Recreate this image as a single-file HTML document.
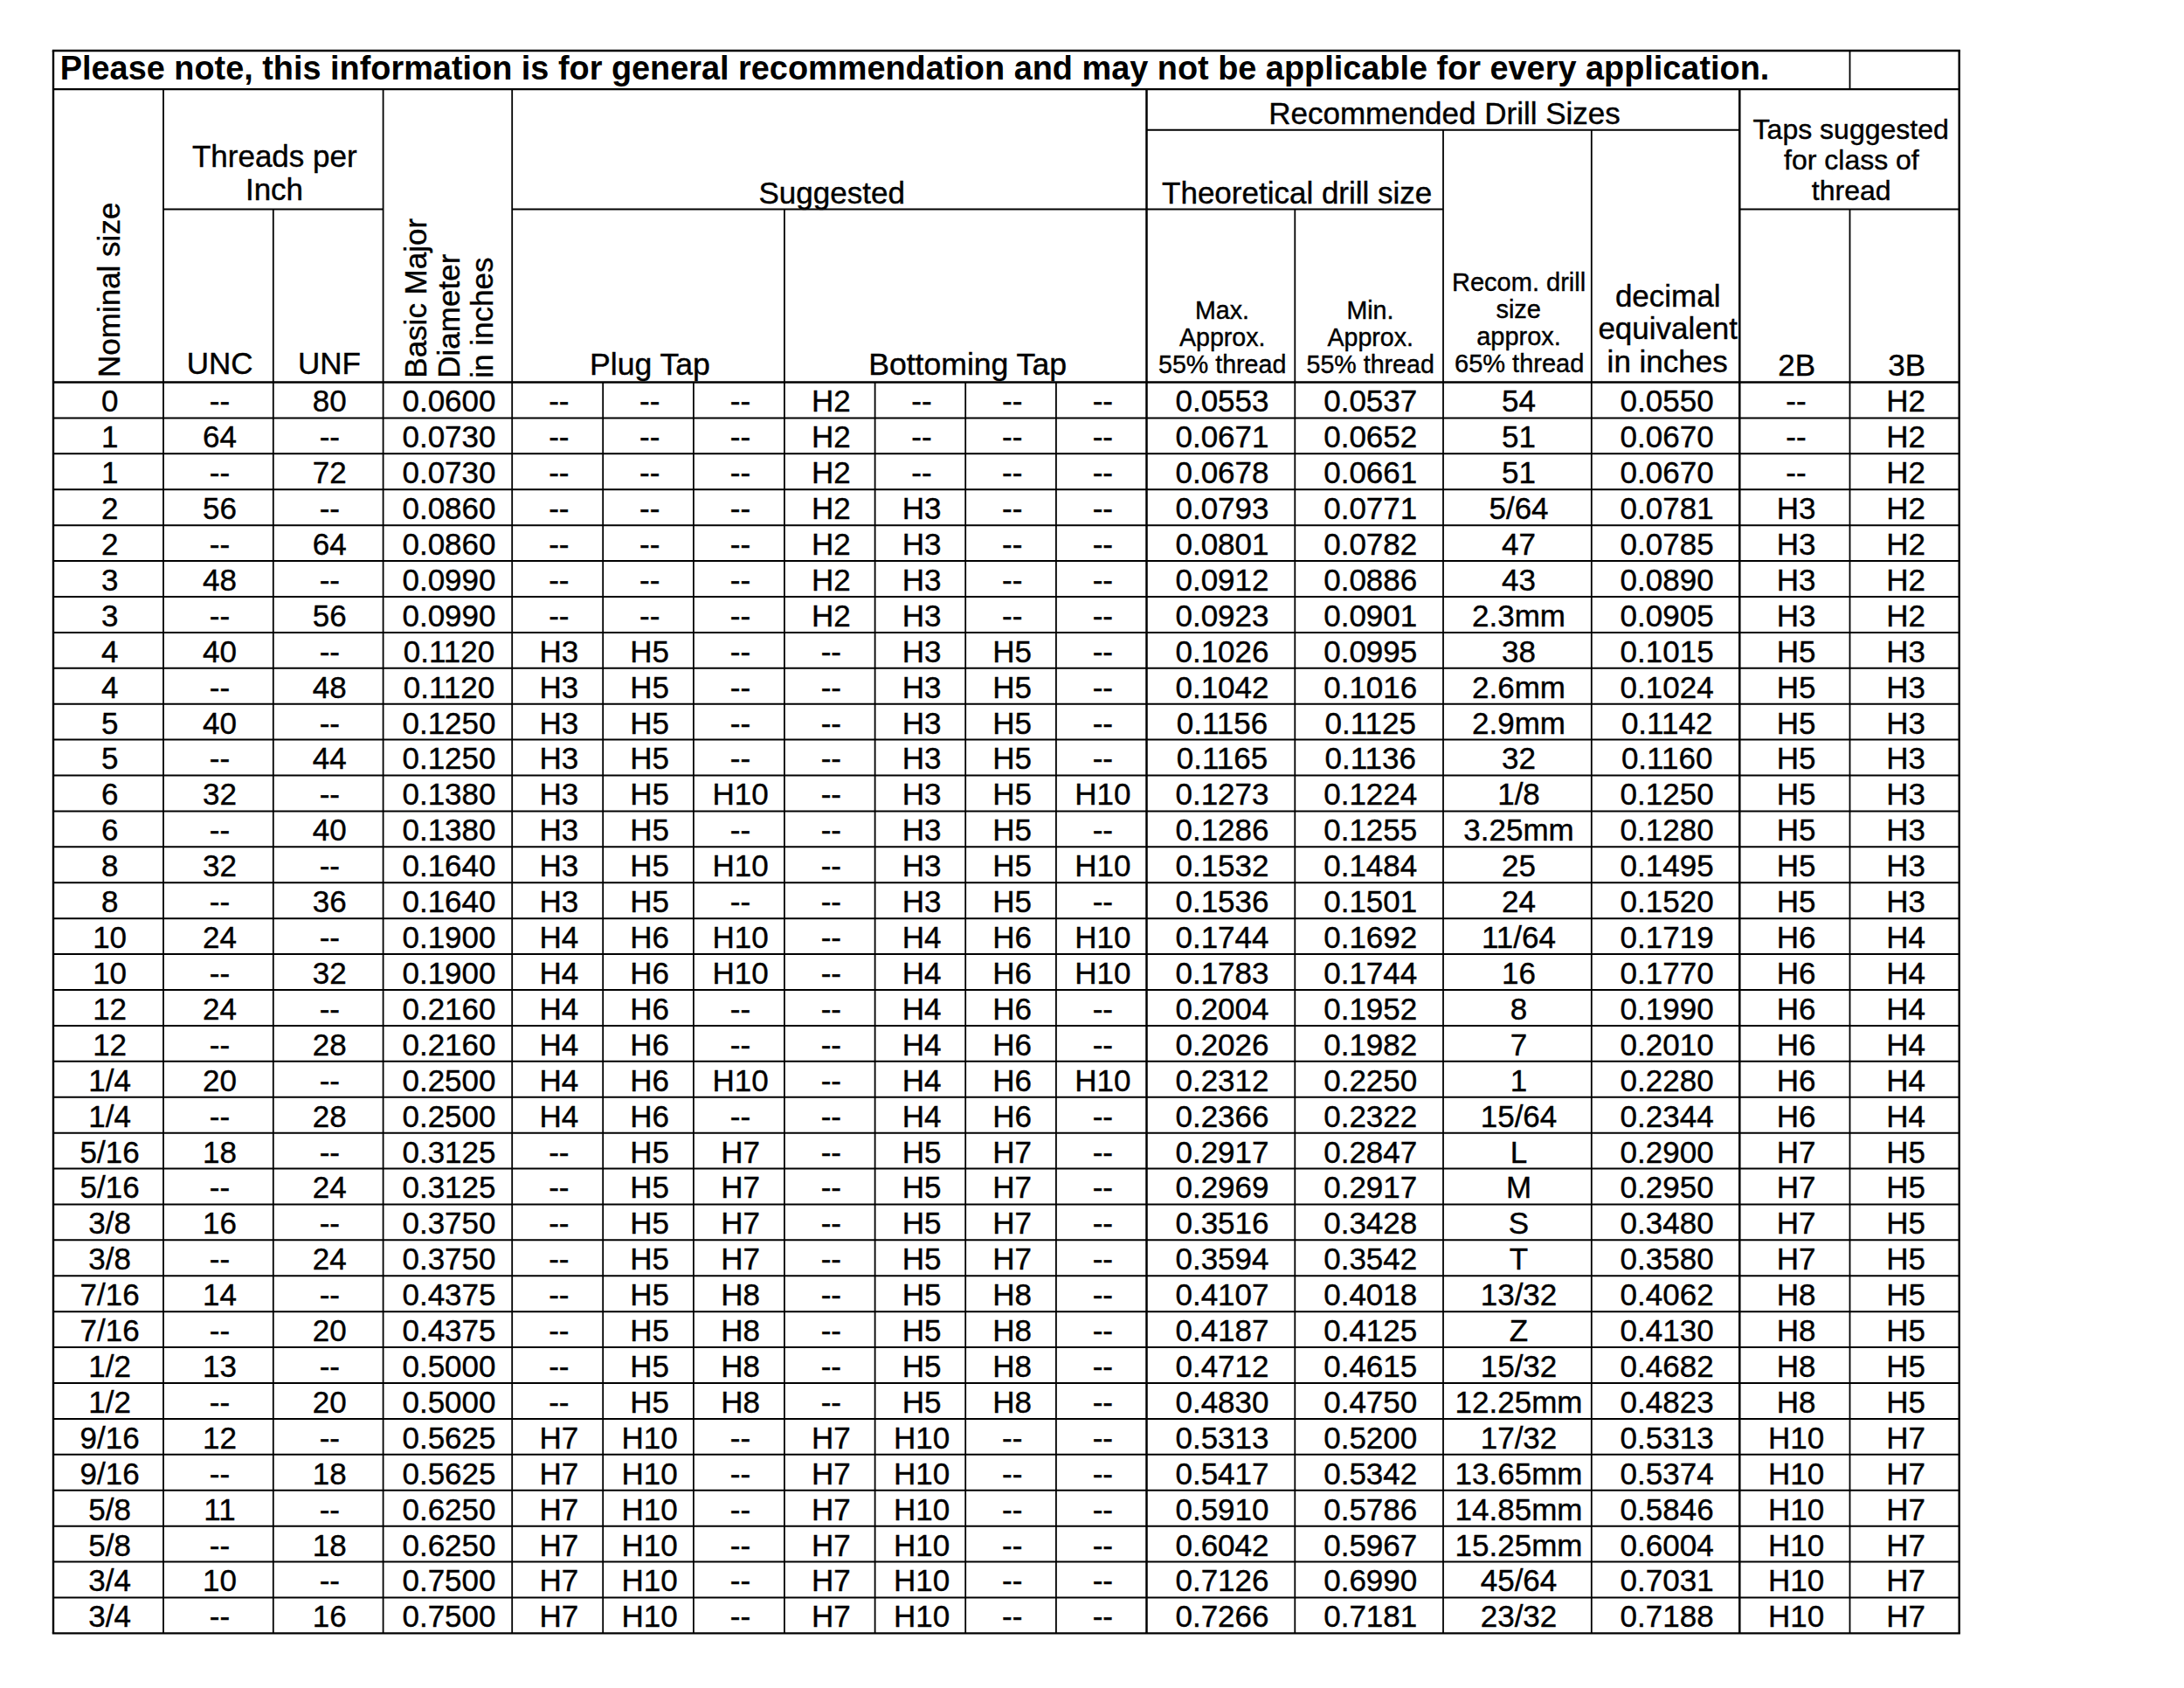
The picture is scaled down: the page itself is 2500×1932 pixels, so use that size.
<!DOCTYPE html>
<html><head><meta charset="utf-8"><style>
html,body{margin:0;padding:0;background:#fff;}
body{width:2500px;height:1932px;position:relative;overflow:hidden;font-family:"Liberation Sans", sans-serif;color:#000;}
.t{position:absolute;text-align:center;white-space:nowrap;-webkit-text-stroke:0.4px #000;}
.l{text-align:left;}
.d{width:600px;font-size:35px;line-height:35px;transform:scaleY(1.02);transform-origin:50% 29.63px;}
svg{position:absolute;left:0;top:0;}
</style></head><body>
<svg width="2500" height="1932" viewBox="0 0 2500 1932" stroke="#000" fill="none">
<line x1="59.80" y1="58.00" x2="2243.90" y2="58.00" stroke-width="2.4"/>
<line x1="59.80" y1="1869.40" x2="2243.90" y2="1869.40" stroke-width="2.4"/>
<line x1="61.00" y1="58.00" x2="61.00" y2="1869.40" stroke-width="2.4"/>
<line x1="2242.70" y1="58.00" x2="2242.70" y2="1869.40" stroke-width="2.4"/>
<line x1="61.00" y1="102.10" x2="2242.70" y2="102.10" stroke-width="2.1"/>
<line x1="1312.50" y1="148.70" x2="1991.30" y2="148.70" stroke-width="2.0"/>
<line x1="187.00" y1="239.50" x2="438.60" y2="239.50" stroke-width="2.0"/>
<line x1="586.20" y1="239.50" x2="1312.50" y2="239.50" stroke-width="2.0"/>
<line x1="1312.50" y1="239.50" x2="1652.00" y2="239.50" stroke-width="2.0"/>
<line x1="1991.30" y1="239.50" x2="2242.70" y2="239.50" stroke-width="2.0"/>
<line x1="61.00" y1="437.50" x2="2242.70" y2="437.50" stroke-width="2.3"/>
<line x1="61.00" y1="478.41" x2="2242.70" y2="478.41" stroke-width="2.0"/>
<line x1="61.00" y1="519.32" x2="2242.70" y2="519.32" stroke-width="2.0"/>
<line x1="61.00" y1="560.23" x2="2242.70" y2="560.23" stroke-width="2.0"/>
<line x1="61.00" y1="601.15" x2="2242.70" y2="601.15" stroke-width="2.0"/>
<line x1="61.00" y1="642.06" x2="2242.70" y2="642.06" stroke-width="2.0"/>
<line x1="61.00" y1="682.97" x2="2242.70" y2="682.97" stroke-width="2.0"/>
<line x1="61.00" y1="723.88" x2="2242.70" y2="723.88" stroke-width="2.0"/>
<line x1="61.00" y1="764.79" x2="2242.70" y2="764.79" stroke-width="2.0"/>
<line x1="61.00" y1="805.70" x2="2242.70" y2="805.70" stroke-width="2.0"/>
<line x1="61.00" y1="846.61" x2="2242.70" y2="846.61" stroke-width="2.0"/>
<line x1="61.00" y1="887.53" x2="2242.70" y2="887.53" stroke-width="2.0"/>
<line x1="61.00" y1="928.44" x2="2242.70" y2="928.44" stroke-width="2.0"/>
<line x1="61.00" y1="969.35" x2="2242.70" y2="969.35" stroke-width="2.0"/>
<line x1="61.00" y1="1010.26" x2="2242.70" y2="1010.26" stroke-width="2.0"/>
<line x1="61.00" y1="1051.17" x2="2242.70" y2="1051.17" stroke-width="2.0"/>
<line x1="61.00" y1="1092.08" x2="2242.70" y2="1092.08" stroke-width="2.0"/>
<line x1="61.00" y1="1132.99" x2="2242.70" y2="1132.99" stroke-width="2.0"/>
<line x1="61.00" y1="1173.91" x2="2242.70" y2="1173.91" stroke-width="2.0"/>
<line x1="61.00" y1="1214.82" x2="2242.70" y2="1214.82" stroke-width="2.0"/>
<line x1="61.00" y1="1255.73" x2="2242.70" y2="1255.73" stroke-width="2.0"/>
<line x1="61.00" y1="1296.64" x2="2242.70" y2="1296.64" stroke-width="2.0"/>
<line x1="61.00" y1="1337.55" x2="2242.70" y2="1337.55" stroke-width="2.0"/>
<line x1="61.00" y1="1378.46" x2="2242.70" y2="1378.46" stroke-width="2.0"/>
<line x1="61.00" y1="1419.37" x2="2242.70" y2="1419.37" stroke-width="2.0"/>
<line x1="61.00" y1="1460.29" x2="2242.70" y2="1460.29" stroke-width="2.0"/>
<line x1="61.00" y1="1501.20" x2="2242.70" y2="1501.20" stroke-width="2.0"/>
<line x1="61.00" y1="1542.11" x2="2242.70" y2="1542.11" stroke-width="2.0"/>
<line x1="61.00" y1="1583.02" x2="2242.70" y2="1583.02" stroke-width="2.0"/>
<line x1="61.00" y1="1623.93" x2="2242.70" y2="1623.93" stroke-width="2.0"/>
<line x1="61.00" y1="1664.84" x2="2242.70" y2="1664.84" stroke-width="2.0"/>
<line x1="61.00" y1="1705.75" x2="2242.70" y2="1705.75" stroke-width="2.0"/>
<line x1="61.00" y1="1746.67" x2="2242.70" y2="1746.67" stroke-width="2.0"/>
<line x1="61.00" y1="1787.58" x2="2242.70" y2="1787.58" stroke-width="2.0"/>
<line x1="61.00" y1="1828.49" x2="2242.70" y2="1828.49" stroke-width="2.0"/>
<line x1="2117.50" y1="58.00" x2="2117.50" y2="102.10" stroke-width="1.8"/>
<line x1="187.00" y1="102.10" x2="187.00" y2="1869.40" stroke-width="1.8"/>
<line x1="438.60" y1="102.10" x2="438.60" y2="1869.40" stroke-width="1.8"/>
<line x1="586.20" y1="102.10" x2="586.20" y2="1869.40" stroke-width="1.8"/>
<line x1="1312.50" y1="102.10" x2="1312.50" y2="1869.40" stroke-width="2.5"/>
<line x1="1991.30" y1="102.10" x2="1991.30" y2="1869.40" stroke-width="2.5"/>
<line x1="312.80" y1="239.50" x2="312.80" y2="1869.40" stroke-width="1.8"/>
<line x1="897.90" y1="239.50" x2="897.90" y2="1869.40" stroke-width="1.8"/>
<line x1="1482.30" y1="239.50" x2="1482.30" y2="1869.40" stroke-width="1.8"/>
<line x1="2117.50" y1="239.50" x2="2117.50" y2="1869.40" stroke-width="1.8"/>
<line x1="1652.00" y1="148.70" x2="1652.00" y2="1869.40" stroke-width="1.8"/>
<line x1="1821.80" y1="148.70" x2="1821.80" y2="1869.40" stroke-width="1.8"/>
<line x1="690.20" y1="437.50" x2="690.20" y2="1869.40" stroke-width="1.8"/>
<line x1="793.90" y1="437.50" x2="793.90" y2="1869.40" stroke-width="1.8"/>
<line x1="1001.60" y1="437.50" x2="1001.60" y2="1869.40" stroke-width="1.8"/>
<line x1="1105.20" y1="437.50" x2="1105.20" y2="1869.40" stroke-width="1.8"/>
<line x1="1208.90" y1="437.50" x2="1208.90" y2="1869.40" stroke-width="1.8"/>
</svg>
<div class="t l" style="left:68.80px;top:60.24px;font-size:37.86px;line-height:37.86px;font-weight:bold;-webkit-text-stroke:0;">Please note, this information is for general recommendation and may not be applicable for every application.</div>
<div class="t l" style="left:0;top:0;font-size:35px;line-height:35px;transform-origin:0 0;transform:translate(107.17px,432.00px) rotate(-90deg);">Nominal size</div>
<div class="t" style="left:14.30px;top:160.97px;width:600px;font-size:35px;line-height:35px;">Threads per</div>
<div class="t" style="left:14.00px;top:198.97px;width:600px;font-size:35px;line-height:35px;">Inch</div>
<div class="t" style="left:-48.30px;top:397.67px;width:600px;font-size:35px;line-height:35px;">UNC</div>
<div class="t" style="left:77.00px;top:397.67px;width:600px;font-size:35px;line-height:35px;">UNF</div>
<div class="t l" style="left:0;top:0;font-size:35px;line-height:35px;transform-origin:0 0;transform:translate(457.57px,432.70px) rotate(-90deg);">Basic Major</div>
<div class="t l" style="left:0;top:0;font-size:35px;line-height:35px;transform-origin:0 0;transform:translate(495.57px,432.70px) rotate(-90deg);">Diameter</div>
<div class="t l" style="left:0;top:0;font-size:35px;line-height:35px;transform-origin:0 0;transform:translate(534.17px,432.70px) rotate(-90deg);">in inches</div>
<div class="t" style="left:652.20px;top:202.87px;width:600px;font-size:35px;line-height:35px;">Suggested</div>
<div class="t" style="left:444.00px;top:399.86px;width:600px;font-size:35.6px;line-height:35.6px;">Plug Tap</div>
<div class="t" style="left:807.60px;top:399.86px;width:600px;font-size:35.6px;line-height:35.6px;">Bottoming Tap</div>
<div class="t" style="left:1353.50px;top:111.97px;width:600px;font-size:35px;line-height:35px;">Recommended Drill Sizes</div>
<div class="t" style="left:1184.70px;top:202.87px;width:600px;font-size:35px;line-height:35px;">Theoretical drill size</div>
<div class="t" style="left:1098.90px;top:341.38px;width:600px;font-size:28.6px;line-height:28.6px;">Max.</div>
<div class="t" style="left:1099.20px;top:372.18px;width:600px;font-size:28.6px;line-height:28.6px;">Approx.</div>
<div class="t" style="left:1099.20px;top:402.98px;width:600px;font-size:28.6px;line-height:28.6px;">55% thread</div>
<div class="t" style="left:1268.40px;top:341.38px;width:600px;font-size:28.6px;line-height:28.6px;">Min.</div>
<div class="t" style="left:1268.70px;top:372.18px;width:600px;font-size:28.6px;line-height:28.6px;">Approx.</div>
<div class="t" style="left:1268.70px;top:402.98px;width:600px;font-size:28.6px;line-height:28.6px;">55% thread</div>
<div class="t" style="left:1438.60px;top:309.05px;width:600px;font-size:29px;line-height:29px;">Recom. drill</div>
<div class="t" style="left:1438.20px;top:340.15px;width:600px;font-size:29px;line-height:29px;">size</div>
<div class="t" style="left:1438.50px;top:371.25px;width:600px;font-size:29px;line-height:29px;">approx.</div>
<div class="t" style="left:1439.20px;top:402.35px;width:600px;font-size:29px;line-height:29px;">65% thread</div>
<div class="t" style="left:1609.20px;top:321.17px;width:600px;font-size:35px;line-height:35px;">decimal</div>
<div class="t" style="left:1609.20px;top:358.37px;width:600px;font-size:35px;line-height:35px;">equivalent</div>
<div class="t" style="left:1608.70px;top:395.67px;width:600px;font-size:35px;line-height:35px;">in inches</div>
<div class="t" style="left:1818.70px;top:132.31px;width:600px;font-size:32px;line-height:32px;">Taps suggested</div>
<div class="t" style="left:1819.40px;top:166.61px;width:600px;font-size:32px;line-height:32px;">for class of</div>
<div class="t" style="left:1819.20px;top:201.81px;width:600px;font-size:32px;line-height:32px;">thread</div>
<div class="t" style="left:1756.70px;top:399.77px;width:600px;font-size:35px;line-height:35px;">2B</div>
<div class="t" style="left:1882.60px;top:399.77px;width:600px;font-size:35px;line-height:35px;">3B</div>
<div class="t d" style="left:-174.40px;top:441.37px">0</div>
<div class="t d" style="left:-48.50px;top:441.37px">--</div>
<div class="t d" style="left:77.30px;top:441.37px">80</div>
<div class="t d" style="left:214.00px;top:441.37px">0.0600</div>
<div class="t d" style="left:339.80px;top:441.37px">--</div>
<div class="t d" style="left:443.65px;top:441.37px">--</div>
<div class="t d" style="left:547.50px;top:441.37px">--</div>
<div class="t d" style="left:651.35px;top:441.37px">H2</div>
<div class="t d" style="left:755.00px;top:441.37px">--</div>
<div class="t d" style="left:858.65px;top:441.37px">--</div>
<div class="t d" style="left:962.30px;top:441.37px">--</div>
<div class="t d" style="left:1099.00px;top:441.37px">0.0553</div>
<div class="t d" style="left:1268.75px;top:441.37px">0.0537</div>
<div class="t d" style="left:1438.50px;top:441.37px">54</div>
<div class="t d" style="left:1608.15px;top:441.37px">0.0550</div>
<div class="t d" style="left:1756.00px;top:441.37px">--</div>
<div class="t d" style="left:1881.70px;top:441.37px">H2</div>
<div class="t d" style="left:-174.40px;top:482.28px">1</div>
<div class="t d" style="left:-48.50px;top:482.28px">64</div>
<div class="t d" style="left:77.30px;top:482.28px">--</div>
<div class="t d" style="left:214.00px;top:482.28px">0.0730</div>
<div class="t d" style="left:339.80px;top:482.28px">--</div>
<div class="t d" style="left:443.65px;top:482.28px">--</div>
<div class="t d" style="left:547.50px;top:482.28px">--</div>
<div class="t d" style="left:651.35px;top:482.28px">H2</div>
<div class="t d" style="left:755.00px;top:482.28px">--</div>
<div class="t d" style="left:858.65px;top:482.28px">--</div>
<div class="t d" style="left:962.30px;top:482.28px">--</div>
<div class="t d" style="left:1099.00px;top:482.28px">0.0671</div>
<div class="t d" style="left:1268.75px;top:482.28px">0.0652</div>
<div class="t d" style="left:1438.50px;top:482.28px">51</div>
<div class="t d" style="left:1608.15px;top:482.28px">0.0670</div>
<div class="t d" style="left:1756.00px;top:482.28px">--</div>
<div class="t d" style="left:1881.70px;top:482.28px">H2</div>
<div class="t d" style="left:-174.40px;top:523.19px">1</div>
<div class="t d" style="left:-48.50px;top:523.19px">--</div>
<div class="t d" style="left:77.30px;top:523.19px">72</div>
<div class="t d" style="left:214.00px;top:523.19px">0.0730</div>
<div class="t d" style="left:339.80px;top:523.19px">--</div>
<div class="t d" style="left:443.65px;top:523.19px">--</div>
<div class="t d" style="left:547.50px;top:523.19px">--</div>
<div class="t d" style="left:651.35px;top:523.19px">H2</div>
<div class="t d" style="left:755.00px;top:523.19px">--</div>
<div class="t d" style="left:858.65px;top:523.19px">--</div>
<div class="t d" style="left:962.30px;top:523.19px">--</div>
<div class="t d" style="left:1099.00px;top:523.19px">0.0678</div>
<div class="t d" style="left:1268.75px;top:523.19px">0.0661</div>
<div class="t d" style="left:1438.50px;top:523.19px">51</div>
<div class="t d" style="left:1608.15px;top:523.19px">0.0670</div>
<div class="t d" style="left:1756.00px;top:523.19px">--</div>
<div class="t d" style="left:1881.70px;top:523.19px">H2</div>
<div class="t d" style="left:-174.40px;top:564.10px">2</div>
<div class="t d" style="left:-48.50px;top:564.10px">56</div>
<div class="t d" style="left:77.30px;top:564.10px">--</div>
<div class="t d" style="left:214.00px;top:564.10px">0.0860</div>
<div class="t d" style="left:339.80px;top:564.10px">--</div>
<div class="t d" style="left:443.65px;top:564.10px">--</div>
<div class="t d" style="left:547.50px;top:564.10px">--</div>
<div class="t d" style="left:651.35px;top:564.10px">H2</div>
<div class="t d" style="left:755.00px;top:564.10px">H3</div>
<div class="t d" style="left:858.65px;top:564.10px">--</div>
<div class="t d" style="left:962.30px;top:564.10px">--</div>
<div class="t d" style="left:1099.00px;top:564.10px">0.0793</div>
<div class="t d" style="left:1268.75px;top:564.10px">0.0771</div>
<div class="t d" style="left:1438.50px;top:564.10px">5/64</div>
<div class="t d" style="left:1608.15px;top:564.10px">0.0781</div>
<div class="t d" style="left:1756.00px;top:564.10px">H3</div>
<div class="t d" style="left:1881.70px;top:564.10px">H2</div>
<div class="t d" style="left:-174.40px;top:605.01px">2</div>
<div class="t d" style="left:-48.50px;top:605.01px">--</div>
<div class="t d" style="left:77.30px;top:605.01px">64</div>
<div class="t d" style="left:214.00px;top:605.01px">0.0860</div>
<div class="t d" style="left:339.80px;top:605.01px">--</div>
<div class="t d" style="left:443.65px;top:605.01px">--</div>
<div class="t d" style="left:547.50px;top:605.01px">--</div>
<div class="t d" style="left:651.35px;top:605.01px">H2</div>
<div class="t d" style="left:755.00px;top:605.01px">H3</div>
<div class="t d" style="left:858.65px;top:605.01px">--</div>
<div class="t d" style="left:962.30px;top:605.01px">--</div>
<div class="t d" style="left:1099.00px;top:605.01px">0.0801</div>
<div class="t d" style="left:1268.75px;top:605.01px">0.0782</div>
<div class="t d" style="left:1438.50px;top:605.01px">47</div>
<div class="t d" style="left:1608.15px;top:605.01px">0.0785</div>
<div class="t d" style="left:1756.00px;top:605.01px">H3</div>
<div class="t d" style="left:1881.70px;top:605.01px">H2</div>
<div class="t d" style="left:-174.40px;top:645.92px">3</div>
<div class="t d" style="left:-48.50px;top:645.92px">48</div>
<div class="t d" style="left:77.30px;top:645.92px">--</div>
<div class="t d" style="left:214.00px;top:645.92px">0.0990</div>
<div class="t d" style="left:339.80px;top:645.92px">--</div>
<div class="t d" style="left:443.65px;top:645.92px">--</div>
<div class="t d" style="left:547.50px;top:645.92px">--</div>
<div class="t d" style="left:651.35px;top:645.92px">H2</div>
<div class="t d" style="left:755.00px;top:645.92px">H3</div>
<div class="t d" style="left:858.65px;top:645.92px">--</div>
<div class="t d" style="left:962.30px;top:645.92px">--</div>
<div class="t d" style="left:1099.00px;top:645.92px">0.0912</div>
<div class="t d" style="left:1268.75px;top:645.92px">0.0886</div>
<div class="t d" style="left:1438.50px;top:645.92px">43</div>
<div class="t d" style="left:1608.15px;top:645.92px">0.0890</div>
<div class="t d" style="left:1756.00px;top:645.92px">H3</div>
<div class="t d" style="left:1881.70px;top:645.92px">H2</div>
<div class="t d" style="left:-174.40px;top:686.83px">3</div>
<div class="t d" style="left:-48.50px;top:686.83px">--</div>
<div class="t d" style="left:77.30px;top:686.83px">56</div>
<div class="t d" style="left:214.00px;top:686.83px">0.0990</div>
<div class="t d" style="left:339.80px;top:686.83px">--</div>
<div class="t d" style="left:443.65px;top:686.83px">--</div>
<div class="t d" style="left:547.50px;top:686.83px">--</div>
<div class="t d" style="left:651.35px;top:686.83px">H2</div>
<div class="t d" style="left:755.00px;top:686.83px">H3</div>
<div class="t d" style="left:858.65px;top:686.83px">--</div>
<div class="t d" style="left:962.30px;top:686.83px">--</div>
<div class="t d" style="left:1099.00px;top:686.83px">0.0923</div>
<div class="t d" style="left:1268.75px;top:686.83px">0.0901</div>
<div class="t d" style="left:1438.50px;top:686.83px">2.3mm</div>
<div class="t d" style="left:1608.15px;top:686.83px">0.0905</div>
<div class="t d" style="left:1756.00px;top:686.83px">H3</div>
<div class="t d" style="left:1881.70px;top:686.83px">H2</div>
<div class="t d" style="left:-174.40px;top:727.75px">4</div>
<div class="t d" style="left:-48.50px;top:727.75px">40</div>
<div class="t d" style="left:77.30px;top:727.75px">--</div>
<div class="t d" style="left:214.00px;top:727.75px">0.1120</div>
<div class="t d" style="left:339.80px;top:727.75px">H3</div>
<div class="t d" style="left:443.65px;top:727.75px">H5</div>
<div class="t d" style="left:547.50px;top:727.75px">--</div>
<div class="t d" style="left:651.35px;top:727.75px">--</div>
<div class="t d" style="left:755.00px;top:727.75px">H3</div>
<div class="t d" style="left:858.65px;top:727.75px">H5</div>
<div class="t d" style="left:962.30px;top:727.75px">--</div>
<div class="t d" style="left:1099.00px;top:727.75px">0.1026</div>
<div class="t d" style="left:1268.75px;top:727.75px">0.0995</div>
<div class="t d" style="left:1438.50px;top:727.75px">38</div>
<div class="t d" style="left:1608.15px;top:727.75px">0.1015</div>
<div class="t d" style="left:1756.00px;top:727.75px">H5</div>
<div class="t d" style="left:1881.70px;top:727.75px">H3</div>
<div class="t d" style="left:-174.40px;top:768.66px">4</div>
<div class="t d" style="left:-48.50px;top:768.66px">--</div>
<div class="t d" style="left:77.30px;top:768.66px">48</div>
<div class="t d" style="left:214.00px;top:768.66px">0.1120</div>
<div class="t d" style="left:339.80px;top:768.66px">H3</div>
<div class="t d" style="left:443.65px;top:768.66px">H5</div>
<div class="t d" style="left:547.50px;top:768.66px">--</div>
<div class="t d" style="left:651.35px;top:768.66px">--</div>
<div class="t d" style="left:755.00px;top:768.66px">H3</div>
<div class="t d" style="left:858.65px;top:768.66px">H5</div>
<div class="t d" style="left:962.30px;top:768.66px">--</div>
<div class="t d" style="left:1099.00px;top:768.66px">0.1042</div>
<div class="t d" style="left:1268.75px;top:768.66px">0.1016</div>
<div class="t d" style="left:1438.50px;top:768.66px">2.6mm</div>
<div class="t d" style="left:1608.15px;top:768.66px">0.1024</div>
<div class="t d" style="left:1756.00px;top:768.66px">H5</div>
<div class="t d" style="left:1881.70px;top:768.66px">H3</div>
<div class="t d" style="left:-174.40px;top:809.57px">5</div>
<div class="t d" style="left:-48.50px;top:809.57px">40</div>
<div class="t d" style="left:77.30px;top:809.57px">--</div>
<div class="t d" style="left:214.00px;top:809.57px">0.1250</div>
<div class="t d" style="left:339.80px;top:809.57px">H3</div>
<div class="t d" style="left:443.65px;top:809.57px">H5</div>
<div class="t d" style="left:547.50px;top:809.57px">--</div>
<div class="t d" style="left:651.35px;top:809.57px">--</div>
<div class="t d" style="left:755.00px;top:809.57px">H3</div>
<div class="t d" style="left:858.65px;top:809.57px">H5</div>
<div class="t d" style="left:962.30px;top:809.57px">--</div>
<div class="t d" style="left:1099.00px;top:809.57px">0.1156</div>
<div class="t d" style="left:1268.75px;top:809.57px">0.1125</div>
<div class="t d" style="left:1438.50px;top:809.57px">2.9mm</div>
<div class="t d" style="left:1608.15px;top:809.57px">0.1142</div>
<div class="t d" style="left:1756.00px;top:809.57px">H5</div>
<div class="t d" style="left:1881.70px;top:809.57px">H3</div>
<div class="t d" style="left:-174.40px;top:850.48px">5</div>
<div class="t d" style="left:-48.50px;top:850.48px">--</div>
<div class="t d" style="left:77.30px;top:850.48px">44</div>
<div class="t d" style="left:214.00px;top:850.48px">0.1250</div>
<div class="t d" style="left:339.80px;top:850.48px">H3</div>
<div class="t d" style="left:443.65px;top:850.48px">H5</div>
<div class="t d" style="left:547.50px;top:850.48px">--</div>
<div class="t d" style="left:651.35px;top:850.48px">--</div>
<div class="t d" style="left:755.00px;top:850.48px">H3</div>
<div class="t d" style="left:858.65px;top:850.48px">H5</div>
<div class="t d" style="left:962.30px;top:850.48px">--</div>
<div class="t d" style="left:1099.00px;top:850.48px">0.1165</div>
<div class="t d" style="left:1268.75px;top:850.48px">0.1136</div>
<div class="t d" style="left:1438.50px;top:850.48px">32</div>
<div class="t d" style="left:1608.15px;top:850.48px">0.1160</div>
<div class="t d" style="left:1756.00px;top:850.48px">H5</div>
<div class="t d" style="left:1881.70px;top:850.48px">H3</div>
<div class="t d" style="left:-174.40px;top:891.39px">6</div>
<div class="t d" style="left:-48.50px;top:891.39px">32</div>
<div class="t d" style="left:77.30px;top:891.39px">--</div>
<div class="t d" style="left:214.00px;top:891.39px">0.1380</div>
<div class="t d" style="left:339.80px;top:891.39px">H3</div>
<div class="t d" style="left:443.65px;top:891.39px">H5</div>
<div class="t d" style="left:547.50px;top:891.39px">H10</div>
<div class="t d" style="left:651.35px;top:891.39px">--</div>
<div class="t d" style="left:755.00px;top:891.39px">H3</div>
<div class="t d" style="left:858.65px;top:891.39px">H5</div>
<div class="t d" style="left:962.30px;top:891.39px">H10</div>
<div class="t d" style="left:1099.00px;top:891.39px">0.1273</div>
<div class="t d" style="left:1268.75px;top:891.39px">0.1224</div>
<div class="t d" style="left:1438.50px;top:891.39px">1/8</div>
<div class="t d" style="left:1608.15px;top:891.39px">0.1250</div>
<div class="t d" style="left:1756.00px;top:891.39px">H5</div>
<div class="t d" style="left:1881.70px;top:891.39px">H3</div>
<div class="t d" style="left:-174.40px;top:932.30px">6</div>
<div class="t d" style="left:-48.50px;top:932.30px">--</div>
<div class="t d" style="left:77.30px;top:932.30px">40</div>
<div class="t d" style="left:214.00px;top:932.30px">0.1380</div>
<div class="t d" style="left:339.80px;top:932.30px">H3</div>
<div class="t d" style="left:443.65px;top:932.30px">H5</div>
<div class="t d" style="left:547.50px;top:932.30px">--</div>
<div class="t d" style="left:651.35px;top:932.30px">--</div>
<div class="t d" style="left:755.00px;top:932.30px">H3</div>
<div class="t d" style="left:858.65px;top:932.30px">H5</div>
<div class="t d" style="left:962.30px;top:932.30px">--</div>
<div class="t d" style="left:1099.00px;top:932.30px">0.1286</div>
<div class="t d" style="left:1268.75px;top:932.30px">0.1255</div>
<div class="t d" style="left:1438.50px;top:932.30px">3.25mm</div>
<div class="t d" style="left:1608.15px;top:932.30px">0.1280</div>
<div class="t d" style="left:1756.00px;top:932.30px">H5</div>
<div class="t d" style="left:1881.70px;top:932.30px">H3</div>
<div class="t d" style="left:-174.40px;top:973.21px">8</div>
<div class="t d" style="left:-48.50px;top:973.21px">32</div>
<div class="t d" style="left:77.30px;top:973.21px">--</div>
<div class="t d" style="left:214.00px;top:973.21px">0.1640</div>
<div class="t d" style="left:339.80px;top:973.21px">H3</div>
<div class="t d" style="left:443.65px;top:973.21px">H5</div>
<div class="t d" style="left:547.50px;top:973.21px">H10</div>
<div class="t d" style="left:651.35px;top:973.21px">--</div>
<div class="t d" style="left:755.00px;top:973.21px">H3</div>
<div class="t d" style="left:858.65px;top:973.21px">H5</div>
<div class="t d" style="left:962.30px;top:973.21px">H10</div>
<div class="t d" style="left:1099.00px;top:973.21px">0.1532</div>
<div class="t d" style="left:1268.75px;top:973.21px">0.1484</div>
<div class="t d" style="left:1438.50px;top:973.21px">25</div>
<div class="t d" style="left:1608.15px;top:973.21px">0.1495</div>
<div class="t d" style="left:1756.00px;top:973.21px">H5</div>
<div class="t d" style="left:1881.70px;top:973.21px">H3</div>
<div class="t d" style="left:-174.40px;top:1014.13px">8</div>
<div class="t d" style="left:-48.50px;top:1014.13px">--</div>
<div class="t d" style="left:77.30px;top:1014.13px">36</div>
<div class="t d" style="left:214.00px;top:1014.13px">0.1640</div>
<div class="t d" style="left:339.80px;top:1014.13px">H3</div>
<div class="t d" style="left:443.65px;top:1014.13px">H5</div>
<div class="t d" style="left:547.50px;top:1014.13px">--</div>
<div class="t d" style="left:651.35px;top:1014.13px">--</div>
<div class="t d" style="left:755.00px;top:1014.13px">H3</div>
<div class="t d" style="left:858.65px;top:1014.13px">H5</div>
<div class="t d" style="left:962.30px;top:1014.13px">--</div>
<div class="t d" style="left:1099.00px;top:1014.13px">0.1536</div>
<div class="t d" style="left:1268.75px;top:1014.13px">0.1501</div>
<div class="t d" style="left:1438.50px;top:1014.13px">24</div>
<div class="t d" style="left:1608.15px;top:1014.13px">0.1520</div>
<div class="t d" style="left:1756.00px;top:1014.13px">H5</div>
<div class="t d" style="left:1881.70px;top:1014.13px">H3</div>
<div class="t d" style="left:-174.40px;top:1055.04px">10</div>
<div class="t d" style="left:-48.50px;top:1055.04px">24</div>
<div class="t d" style="left:77.30px;top:1055.04px">--</div>
<div class="t d" style="left:214.00px;top:1055.04px">0.1900</div>
<div class="t d" style="left:339.80px;top:1055.04px">H4</div>
<div class="t d" style="left:443.65px;top:1055.04px">H6</div>
<div class="t d" style="left:547.50px;top:1055.04px">H10</div>
<div class="t d" style="left:651.35px;top:1055.04px">--</div>
<div class="t d" style="left:755.00px;top:1055.04px">H4</div>
<div class="t d" style="left:858.65px;top:1055.04px">H6</div>
<div class="t d" style="left:962.30px;top:1055.04px">H10</div>
<div class="t d" style="left:1099.00px;top:1055.04px">0.1744</div>
<div class="t d" style="left:1268.75px;top:1055.04px">0.1692</div>
<div class="t d" style="left:1438.50px;top:1055.04px">11/64</div>
<div class="t d" style="left:1608.15px;top:1055.04px">0.1719</div>
<div class="t d" style="left:1756.00px;top:1055.04px">H6</div>
<div class="t d" style="left:1881.70px;top:1055.04px">H4</div>
<div class="t d" style="left:-174.40px;top:1095.95px">10</div>
<div class="t d" style="left:-48.50px;top:1095.95px">--</div>
<div class="t d" style="left:77.30px;top:1095.95px">32</div>
<div class="t d" style="left:214.00px;top:1095.95px">0.1900</div>
<div class="t d" style="left:339.80px;top:1095.95px">H4</div>
<div class="t d" style="left:443.65px;top:1095.95px">H6</div>
<div class="t d" style="left:547.50px;top:1095.95px">H10</div>
<div class="t d" style="left:651.35px;top:1095.95px">--</div>
<div class="t d" style="left:755.00px;top:1095.95px">H4</div>
<div class="t d" style="left:858.65px;top:1095.95px">H6</div>
<div class="t d" style="left:962.30px;top:1095.95px">H10</div>
<div class="t d" style="left:1099.00px;top:1095.95px">0.1783</div>
<div class="t d" style="left:1268.75px;top:1095.95px">0.1744</div>
<div class="t d" style="left:1438.50px;top:1095.95px">16</div>
<div class="t d" style="left:1608.15px;top:1095.95px">0.1770</div>
<div class="t d" style="left:1756.00px;top:1095.95px">H6</div>
<div class="t d" style="left:1881.70px;top:1095.95px">H4</div>
<div class="t d" style="left:-174.40px;top:1136.86px">12</div>
<div class="t d" style="left:-48.50px;top:1136.86px">24</div>
<div class="t d" style="left:77.30px;top:1136.86px">--</div>
<div class="t d" style="left:214.00px;top:1136.86px">0.2160</div>
<div class="t d" style="left:339.80px;top:1136.86px">H4</div>
<div class="t d" style="left:443.65px;top:1136.86px">H6</div>
<div class="t d" style="left:547.50px;top:1136.86px">--</div>
<div class="t d" style="left:651.35px;top:1136.86px">--</div>
<div class="t d" style="left:755.00px;top:1136.86px">H4</div>
<div class="t d" style="left:858.65px;top:1136.86px">H6</div>
<div class="t d" style="left:962.30px;top:1136.86px">--</div>
<div class="t d" style="left:1099.00px;top:1136.86px">0.2004</div>
<div class="t d" style="left:1268.75px;top:1136.86px">0.1952</div>
<div class="t d" style="left:1438.50px;top:1136.86px">8</div>
<div class="t d" style="left:1608.15px;top:1136.86px">0.1990</div>
<div class="t d" style="left:1756.00px;top:1136.86px">H6</div>
<div class="t d" style="left:1881.70px;top:1136.86px">H4</div>
<div class="t d" style="left:-174.40px;top:1177.77px">12</div>
<div class="t d" style="left:-48.50px;top:1177.77px">--</div>
<div class="t d" style="left:77.30px;top:1177.77px">28</div>
<div class="t d" style="left:214.00px;top:1177.77px">0.2160</div>
<div class="t d" style="left:339.80px;top:1177.77px">H4</div>
<div class="t d" style="left:443.65px;top:1177.77px">H6</div>
<div class="t d" style="left:547.50px;top:1177.77px">--</div>
<div class="t d" style="left:651.35px;top:1177.77px">--</div>
<div class="t d" style="left:755.00px;top:1177.77px">H4</div>
<div class="t d" style="left:858.65px;top:1177.77px">H6</div>
<div class="t d" style="left:962.30px;top:1177.77px">--</div>
<div class="t d" style="left:1099.00px;top:1177.77px">0.2026</div>
<div class="t d" style="left:1268.75px;top:1177.77px">0.1982</div>
<div class="t d" style="left:1438.50px;top:1177.77px">7</div>
<div class="t d" style="left:1608.15px;top:1177.77px">0.2010</div>
<div class="t d" style="left:1756.00px;top:1177.77px">H6</div>
<div class="t d" style="left:1881.70px;top:1177.77px">H4</div>
<div class="t d" style="left:-174.40px;top:1218.68px">1/4</div>
<div class="t d" style="left:-48.50px;top:1218.68px">20</div>
<div class="t d" style="left:77.30px;top:1218.68px">--</div>
<div class="t d" style="left:214.00px;top:1218.68px">0.2500</div>
<div class="t d" style="left:339.80px;top:1218.68px">H4</div>
<div class="t d" style="left:443.65px;top:1218.68px">H6</div>
<div class="t d" style="left:547.50px;top:1218.68px">H10</div>
<div class="t d" style="left:651.35px;top:1218.68px">--</div>
<div class="t d" style="left:755.00px;top:1218.68px">H4</div>
<div class="t d" style="left:858.65px;top:1218.68px">H6</div>
<div class="t d" style="left:962.30px;top:1218.68px">H10</div>
<div class="t d" style="left:1099.00px;top:1218.68px">0.2312</div>
<div class="t d" style="left:1268.75px;top:1218.68px">0.2250</div>
<div class="t d" style="left:1438.50px;top:1218.68px">1</div>
<div class="t d" style="left:1608.15px;top:1218.68px">0.2280</div>
<div class="t d" style="left:1756.00px;top:1218.68px">H6</div>
<div class="t d" style="left:1881.70px;top:1218.68px">H4</div>
<div class="t d" style="left:-174.40px;top:1259.59px">1/4</div>
<div class="t d" style="left:-48.50px;top:1259.59px">--</div>
<div class="t d" style="left:77.30px;top:1259.59px">28</div>
<div class="t d" style="left:214.00px;top:1259.59px">0.2500</div>
<div class="t d" style="left:339.80px;top:1259.59px">H4</div>
<div class="t d" style="left:443.65px;top:1259.59px">H6</div>
<div class="t d" style="left:547.50px;top:1259.59px">--</div>
<div class="t d" style="left:651.35px;top:1259.59px">--</div>
<div class="t d" style="left:755.00px;top:1259.59px">H4</div>
<div class="t d" style="left:858.65px;top:1259.59px">H6</div>
<div class="t d" style="left:962.30px;top:1259.59px">--</div>
<div class="t d" style="left:1099.00px;top:1259.59px">0.2366</div>
<div class="t d" style="left:1268.75px;top:1259.59px">0.2322</div>
<div class="t d" style="left:1438.50px;top:1259.59px">15/64</div>
<div class="t d" style="left:1608.15px;top:1259.59px">0.2344</div>
<div class="t d" style="left:1756.00px;top:1259.59px">H6</div>
<div class="t d" style="left:1881.70px;top:1259.59px">H4</div>
<div class="t d" style="left:-174.40px;top:1300.51px">5/16</div>
<div class="t d" style="left:-48.50px;top:1300.51px">18</div>
<div class="t d" style="left:77.30px;top:1300.51px">--</div>
<div class="t d" style="left:214.00px;top:1300.51px">0.3125</div>
<div class="t d" style="left:339.80px;top:1300.51px">--</div>
<div class="t d" style="left:443.65px;top:1300.51px">H5</div>
<div class="t d" style="left:547.50px;top:1300.51px">H7</div>
<div class="t d" style="left:651.35px;top:1300.51px">--</div>
<div class="t d" style="left:755.00px;top:1300.51px">H5</div>
<div class="t d" style="left:858.65px;top:1300.51px">H7</div>
<div class="t d" style="left:962.30px;top:1300.51px">--</div>
<div class="t d" style="left:1099.00px;top:1300.51px">0.2917</div>
<div class="t d" style="left:1268.75px;top:1300.51px">0.2847</div>
<div class="t d" style="left:1438.50px;top:1300.51px">L</div>
<div class="t d" style="left:1608.15px;top:1300.51px">0.2900</div>
<div class="t d" style="left:1756.00px;top:1300.51px">H7</div>
<div class="t d" style="left:1881.70px;top:1300.51px">H5</div>
<div class="t d" style="left:-174.40px;top:1341.42px">5/16</div>
<div class="t d" style="left:-48.50px;top:1341.42px">--</div>
<div class="t d" style="left:77.30px;top:1341.42px">24</div>
<div class="t d" style="left:214.00px;top:1341.42px">0.3125</div>
<div class="t d" style="left:339.80px;top:1341.42px">--</div>
<div class="t d" style="left:443.65px;top:1341.42px">H5</div>
<div class="t d" style="left:547.50px;top:1341.42px">H7</div>
<div class="t d" style="left:651.35px;top:1341.42px">--</div>
<div class="t d" style="left:755.00px;top:1341.42px">H5</div>
<div class="t d" style="left:858.65px;top:1341.42px">H7</div>
<div class="t d" style="left:962.30px;top:1341.42px">--</div>
<div class="t d" style="left:1099.00px;top:1341.42px">0.2969</div>
<div class="t d" style="left:1268.75px;top:1341.42px">0.2917</div>
<div class="t d" style="left:1438.50px;top:1341.42px">M</div>
<div class="t d" style="left:1608.15px;top:1341.42px">0.2950</div>
<div class="t d" style="left:1756.00px;top:1341.42px">H7</div>
<div class="t d" style="left:1881.70px;top:1341.42px">H5</div>
<div class="t d" style="left:-174.40px;top:1382.33px">3/8</div>
<div class="t d" style="left:-48.50px;top:1382.33px">16</div>
<div class="t d" style="left:77.30px;top:1382.33px">--</div>
<div class="t d" style="left:214.00px;top:1382.33px">0.3750</div>
<div class="t d" style="left:339.80px;top:1382.33px">--</div>
<div class="t d" style="left:443.65px;top:1382.33px">H5</div>
<div class="t d" style="left:547.50px;top:1382.33px">H7</div>
<div class="t d" style="left:651.35px;top:1382.33px">--</div>
<div class="t d" style="left:755.00px;top:1382.33px">H5</div>
<div class="t d" style="left:858.65px;top:1382.33px">H7</div>
<div class="t d" style="left:962.30px;top:1382.33px">--</div>
<div class="t d" style="left:1099.00px;top:1382.33px">0.3516</div>
<div class="t d" style="left:1268.75px;top:1382.33px">0.3428</div>
<div class="t d" style="left:1438.50px;top:1382.33px">S</div>
<div class="t d" style="left:1608.15px;top:1382.33px">0.3480</div>
<div class="t d" style="left:1756.00px;top:1382.33px">H7</div>
<div class="t d" style="left:1881.70px;top:1382.33px">H5</div>
<div class="t d" style="left:-174.40px;top:1423.24px">3/8</div>
<div class="t d" style="left:-48.50px;top:1423.24px">--</div>
<div class="t d" style="left:77.30px;top:1423.24px">24</div>
<div class="t d" style="left:214.00px;top:1423.24px">0.3750</div>
<div class="t d" style="left:339.80px;top:1423.24px">--</div>
<div class="t d" style="left:443.65px;top:1423.24px">H5</div>
<div class="t d" style="left:547.50px;top:1423.24px">H7</div>
<div class="t d" style="left:651.35px;top:1423.24px">--</div>
<div class="t d" style="left:755.00px;top:1423.24px">H5</div>
<div class="t d" style="left:858.65px;top:1423.24px">H7</div>
<div class="t d" style="left:962.30px;top:1423.24px">--</div>
<div class="t d" style="left:1099.00px;top:1423.24px">0.3594</div>
<div class="t d" style="left:1268.75px;top:1423.24px">0.3542</div>
<div class="t d" style="left:1438.50px;top:1423.24px">T</div>
<div class="t d" style="left:1608.15px;top:1423.24px">0.3580</div>
<div class="t d" style="left:1756.00px;top:1423.24px">H7</div>
<div class="t d" style="left:1881.70px;top:1423.24px">H5</div>
<div class="t d" style="left:-174.40px;top:1464.15px">7/16</div>
<div class="t d" style="left:-48.50px;top:1464.15px">14</div>
<div class="t d" style="left:77.30px;top:1464.15px">--</div>
<div class="t d" style="left:214.00px;top:1464.15px">0.4375</div>
<div class="t d" style="left:339.80px;top:1464.15px">--</div>
<div class="t d" style="left:443.65px;top:1464.15px">H5</div>
<div class="t d" style="left:547.50px;top:1464.15px">H8</div>
<div class="t d" style="left:651.35px;top:1464.15px">--</div>
<div class="t d" style="left:755.00px;top:1464.15px">H5</div>
<div class="t d" style="left:858.65px;top:1464.15px">H8</div>
<div class="t d" style="left:962.30px;top:1464.15px">--</div>
<div class="t d" style="left:1099.00px;top:1464.15px">0.4107</div>
<div class="t d" style="left:1268.75px;top:1464.15px">0.4018</div>
<div class="t d" style="left:1438.50px;top:1464.15px">13/32</div>
<div class="t d" style="left:1608.15px;top:1464.15px">0.4062</div>
<div class="t d" style="left:1756.00px;top:1464.15px">H8</div>
<div class="t d" style="left:1881.70px;top:1464.15px">H5</div>
<div class="t d" style="left:-174.40px;top:1505.06px">7/16</div>
<div class="t d" style="left:-48.50px;top:1505.06px">--</div>
<div class="t d" style="left:77.30px;top:1505.06px">20</div>
<div class="t d" style="left:214.00px;top:1505.06px">0.4375</div>
<div class="t d" style="left:339.80px;top:1505.06px">--</div>
<div class="t d" style="left:443.65px;top:1505.06px">H5</div>
<div class="t d" style="left:547.50px;top:1505.06px">H8</div>
<div class="t d" style="left:651.35px;top:1505.06px">--</div>
<div class="t d" style="left:755.00px;top:1505.06px">H5</div>
<div class="t d" style="left:858.65px;top:1505.06px">H8</div>
<div class="t d" style="left:962.30px;top:1505.06px">--</div>
<div class="t d" style="left:1099.00px;top:1505.06px">0.4187</div>
<div class="t d" style="left:1268.75px;top:1505.06px">0.4125</div>
<div class="t d" style="left:1438.50px;top:1505.06px">Z</div>
<div class="t d" style="left:1608.15px;top:1505.06px">0.4130</div>
<div class="t d" style="left:1756.00px;top:1505.06px">H8</div>
<div class="t d" style="left:1881.70px;top:1505.06px">H5</div>
<div class="t d" style="left:-174.40px;top:1545.97px">1/2</div>
<div class="t d" style="left:-48.50px;top:1545.97px">13</div>
<div class="t d" style="left:77.30px;top:1545.97px">--</div>
<div class="t d" style="left:214.00px;top:1545.97px">0.5000</div>
<div class="t d" style="left:339.80px;top:1545.97px">--</div>
<div class="t d" style="left:443.65px;top:1545.97px">H5</div>
<div class="t d" style="left:547.50px;top:1545.97px">H8</div>
<div class="t d" style="left:651.35px;top:1545.97px">--</div>
<div class="t d" style="left:755.00px;top:1545.97px">H5</div>
<div class="t d" style="left:858.65px;top:1545.97px">H8</div>
<div class="t d" style="left:962.30px;top:1545.97px">--</div>
<div class="t d" style="left:1099.00px;top:1545.97px">0.4712</div>
<div class="t d" style="left:1268.75px;top:1545.97px">0.4615</div>
<div class="t d" style="left:1438.50px;top:1545.97px">15/32</div>
<div class="t d" style="left:1608.15px;top:1545.97px">0.4682</div>
<div class="t d" style="left:1756.00px;top:1545.97px">H8</div>
<div class="t d" style="left:1881.70px;top:1545.97px">H5</div>
<div class="t d" style="left:-174.40px;top:1586.89px">1/2</div>
<div class="t d" style="left:-48.50px;top:1586.89px">--</div>
<div class="t d" style="left:77.30px;top:1586.89px">20</div>
<div class="t d" style="left:214.00px;top:1586.89px">0.5000</div>
<div class="t d" style="left:339.80px;top:1586.89px">--</div>
<div class="t d" style="left:443.65px;top:1586.89px">H5</div>
<div class="t d" style="left:547.50px;top:1586.89px">H8</div>
<div class="t d" style="left:651.35px;top:1586.89px">--</div>
<div class="t d" style="left:755.00px;top:1586.89px">H5</div>
<div class="t d" style="left:858.65px;top:1586.89px">H8</div>
<div class="t d" style="left:962.30px;top:1586.89px">--</div>
<div class="t d" style="left:1099.00px;top:1586.89px">0.4830</div>
<div class="t d" style="left:1268.75px;top:1586.89px">0.4750</div>
<div class="t d" style="left:1438.50px;top:1586.89px">12.25mm</div>
<div class="t d" style="left:1608.15px;top:1586.89px">0.4823</div>
<div class="t d" style="left:1756.00px;top:1586.89px">H8</div>
<div class="t d" style="left:1881.70px;top:1586.89px">H5</div>
<div class="t d" style="left:-174.40px;top:1627.80px">9/16</div>
<div class="t d" style="left:-48.50px;top:1627.80px">12</div>
<div class="t d" style="left:77.30px;top:1627.80px">--</div>
<div class="t d" style="left:214.00px;top:1627.80px">0.5625</div>
<div class="t d" style="left:339.80px;top:1627.80px">H7</div>
<div class="t d" style="left:443.65px;top:1627.80px">H10</div>
<div class="t d" style="left:547.50px;top:1627.80px">--</div>
<div class="t d" style="left:651.35px;top:1627.80px">H7</div>
<div class="t d" style="left:755.00px;top:1627.80px">H10</div>
<div class="t d" style="left:858.65px;top:1627.80px">--</div>
<div class="t d" style="left:962.30px;top:1627.80px">--</div>
<div class="t d" style="left:1099.00px;top:1627.80px">0.5313</div>
<div class="t d" style="left:1268.75px;top:1627.80px">0.5200</div>
<div class="t d" style="left:1438.50px;top:1627.80px">17/32</div>
<div class="t d" style="left:1608.15px;top:1627.80px">0.5313</div>
<div class="t d" style="left:1756.00px;top:1627.80px">H10</div>
<div class="t d" style="left:1881.70px;top:1627.80px">H7</div>
<div class="t d" style="left:-174.40px;top:1668.71px">9/16</div>
<div class="t d" style="left:-48.50px;top:1668.71px">--</div>
<div class="t d" style="left:77.30px;top:1668.71px">18</div>
<div class="t d" style="left:214.00px;top:1668.71px">0.5625</div>
<div class="t d" style="left:339.80px;top:1668.71px">H7</div>
<div class="t d" style="left:443.65px;top:1668.71px">H10</div>
<div class="t d" style="left:547.50px;top:1668.71px">--</div>
<div class="t d" style="left:651.35px;top:1668.71px">H7</div>
<div class="t d" style="left:755.00px;top:1668.71px">H10</div>
<div class="t d" style="left:858.65px;top:1668.71px">--</div>
<div class="t d" style="left:962.30px;top:1668.71px">--</div>
<div class="t d" style="left:1099.00px;top:1668.71px">0.5417</div>
<div class="t d" style="left:1268.75px;top:1668.71px">0.5342</div>
<div class="t d" style="left:1438.50px;top:1668.71px">13.65mm</div>
<div class="t d" style="left:1608.15px;top:1668.71px">0.5374</div>
<div class="t d" style="left:1756.00px;top:1668.71px">H10</div>
<div class="t d" style="left:1881.70px;top:1668.71px">H7</div>
<div class="t d" style="left:-174.40px;top:1709.62px">5/8</div>
<div class="t d" style="left:-48.50px;top:1709.62px">11</div>
<div class="t d" style="left:77.30px;top:1709.62px">--</div>
<div class="t d" style="left:214.00px;top:1709.62px">0.6250</div>
<div class="t d" style="left:339.80px;top:1709.62px">H7</div>
<div class="t d" style="left:443.65px;top:1709.62px">H10</div>
<div class="t d" style="left:547.50px;top:1709.62px">--</div>
<div class="t d" style="left:651.35px;top:1709.62px">H7</div>
<div class="t d" style="left:755.00px;top:1709.62px">H10</div>
<div class="t d" style="left:858.65px;top:1709.62px">--</div>
<div class="t d" style="left:962.30px;top:1709.62px">--</div>
<div class="t d" style="left:1099.00px;top:1709.62px">0.5910</div>
<div class="t d" style="left:1268.75px;top:1709.62px">0.5786</div>
<div class="t d" style="left:1438.50px;top:1709.62px">14.85mm</div>
<div class="t d" style="left:1608.15px;top:1709.62px">0.5846</div>
<div class="t d" style="left:1756.00px;top:1709.62px">H10</div>
<div class="t d" style="left:1881.70px;top:1709.62px">H7</div>
<div class="t d" style="left:-174.40px;top:1750.53px">5/8</div>
<div class="t d" style="left:-48.50px;top:1750.53px">--</div>
<div class="t d" style="left:77.30px;top:1750.53px">18</div>
<div class="t d" style="left:214.00px;top:1750.53px">0.6250</div>
<div class="t d" style="left:339.80px;top:1750.53px">H7</div>
<div class="t d" style="left:443.65px;top:1750.53px">H10</div>
<div class="t d" style="left:547.50px;top:1750.53px">--</div>
<div class="t d" style="left:651.35px;top:1750.53px">H7</div>
<div class="t d" style="left:755.00px;top:1750.53px">H10</div>
<div class="t d" style="left:858.65px;top:1750.53px">--</div>
<div class="t d" style="left:962.30px;top:1750.53px">--</div>
<div class="t d" style="left:1099.00px;top:1750.53px">0.6042</div>
<div class="t d" style="left:1268.75px;top:1750.53px">0.5967</div>
<div class="t d" style="left:1438.50px;top:1750.53px">15.25mm</div>
<div class="t d" style="left:1608.15px;top:1750.53px">0.6004</div>
<div class="t d" style="left:1756.00px;top:1750.53px">H10</div>
<div class="t d" style="left:1881.70px;top:1750.53px">H7</div>
<div class="t d" style="left:-174.40px;top:1791.44px">3/4</div>
<div class="t d" style="left:-48.50px;top:1791.44px">10</div>
<div class="t d" style="left:77.30px;top:1791.44px">--</div>
<div class="t d" style="left:214.00px;top:1791.44px">0.7500</div>
<div class="t d" style="left:339.80px;top:1791.44px">H7</div>
<div class="t d" style="left:443.65px;top:1791.44px">H10</div>
<div class="t d" style="left:547.50px;top:1791.44px">--</div>
<div class="t d" style="left:651.35px;top:1791.44px">H7</div>
<div class="t d" style="left:755.00px;top:1791.44px">H10</div>
<div class="t d" style="left:858.65px;top:1791.44px">--</div>
<div class="t d" style="left:962.30px;top:1791.44px">--</div>
<div class="t d" style="left:1099.00px;top:1791.44px">0.7126</div>
<div class="t d" style="left:1268.75px;top:1791.44px">0.6990</div>
<div class="t d" style="left:1438.50px;top:1791.44px">45/64</div>
<div class="t d" style="left:1608.15px;top:1791.44px">0.7031</div>
<div class="t d" style="left:1756.00px;top:1791.44px">H10</div>
<div class="t d" style="left:1881.70px;top:1791.44px">H7</div>
<div class="t d" style="left:-174.40px;top:1832.35px">3/4</div>
<div class="t d" style="left:-48.50px;top:1832.35px">--</div>
<div class="t d" style="left:77.30px;top:1832.35px">16</div>
<div class="t d" style="left:214.00px;top:1832.35px">0.7500</div>
<div class="t d" style="left:339.80px;top:1832.35px">H7</div>
<div class="t d" style="left:443.65px;top:1832.35px">H10</div>
<div class="t d" style="left:547.50px;top:1832.35px">--</div>
<div class="t d" style="left:651.35px;top:1832.35px">H7</div>
<div class="t d" style="left:755.00px;top:1832.35px">H10</div>
<div class="t d" style="left:858.65px;top:1832.35px">--</div>
<div class="t d" style="left:962.30px;top:1832.35px">--</div>
<div class="t d" style="left:1099.00px;top:1832.35px">0.7266</div>
<div class="t d" style="left:1268.75px;top:1832.35px">0.7181</div>
<div class="t d" style="left:1438.50px;top:1832.35px">23/32</div>
<div class="t d" style="left:1608.15px;top:1832.35px">0.7188</div>
<div class="t d" style="left:1756.00px;top:1832.35px">H10</div>
<div class="t d" style="left:1881.70px;top:1832.35px">H7</div>
</body></html>
